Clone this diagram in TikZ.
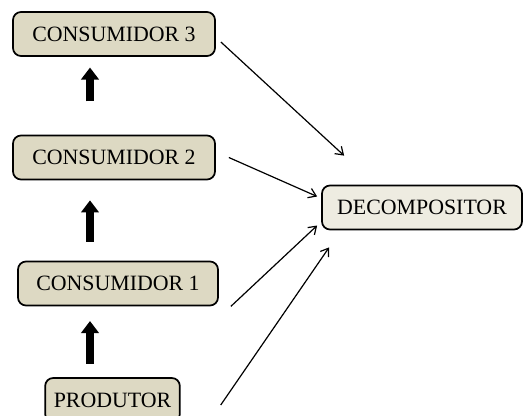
\documentclass[tikz,border=0pt]{standalone}
\usepackage{fontspec}
\setmainfont{Liberation Serif}
\usetikzlibrary{arrows.meta,calc}
\definecolor{tan}{HTML}{DDD9C3}
\definecolor{paletan}{HTML}{EEECE1}
\tikzset{
  box/.style={draw=black, line width=1.3pt, rounded corners=6pt, fill=tan,
    minimum height=33pt, inner sep=0pt, font=\fontsize{16.4}{18}\selectfont},
  bigarrow/.style={line width=6.5pt, -{Triangle[length=9pt,width=13pt]}},
  link/.style={line width=0.9pt, -{Straight Barb[length=5.5pt,width=7.5pt]}}
}
\begin{document}
\begin{tikzpicture}[x=0.75pt,y=-0.75pt]
\useasboundingbox (0,0) rectangle (531,415);
\begin{scope}
\clip (0,0) rectangle (531,415);
\node[box, minimum width=151.5pt] (c3) at (114,34) {CONSUMIDOR 3};
\node[box, minimum width=151.5pt] (c2) at (114,157.5) {CONSUMIDOR 2};
\node[box, minimum width=150pt] (c1) at (118,283.5) {CONSUMIDOR 1};
\node[box, minimum width=101pt] (p) at (112.5,400) {PRODUTOR};
\node[box, fill=paletan, minimum width=150pt] (d) at (422,207.5) {DECOMPOSITOR};
\end{scope}
\draw[bigarrow, shorten <=25pt, shorten >=8pt] ($(c2.north)+(-24,0)$) -- ($(c3.south)+(-24,0)$);
\draw[bigarrow, shorten <=14pt, shorten >=15pt] ($(c1.north)+(-28,0)$) -- ($(c2.south)+(-24,0)$);
\draw[bigarrow, shorten <=10pt, shorten >=11pt] ($(p.north)+(-22.5,0)$) -- ($(c1.south)+(-28,0)$);
\draw[link] ($(c3.east)+(5,8)$) -- ($(d.north west)+(23,-29)$);
\draw[link] ($(c2.east)+(13,0)$) -- ($(d.west)+(-4,-11)$);
\draw[link] ($(c1.south east)+(12,0)$) -- ($(d.west)+(-4,18)$);
\draw[link] ($(p.east)+(40,5)$) -- ($(d.south west)+(8,17)$);
\end{tikzpicture}
\end{document}
